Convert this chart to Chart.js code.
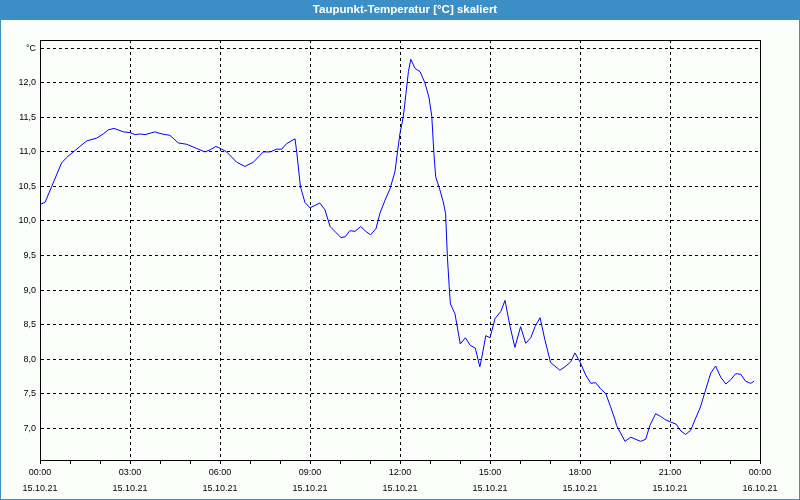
<!DOCTYPE html>
<html>
<head>
<meta charset="utf-8">
<script src="https://cdn.jsdelivr.net/npm/chart.js@4.4.1/dist/chart.umd.min.js"></script>
<style>
  body { margin: 0; background: #fff; }
  canvas { display: block; }
</style>
</head>
<body>
<canvas id="taupunkt" width="800" height="500"></canvas>
<script>
// hours since 15.10.21 00:00
const hours = [0.00, 0.17, 0.39, 0.72, 0.89, 1.11, 1.56, 1.89, 2.11, 2.28, 2.47, 2.78,
  3.00, 3.17, 3.33, 3.50, 3.83, 4.06, 4.33, 4.61, 4.89, 5.22, 5.50, 5.67, 5.86,
  6.06, 6.22, 6.56, 6.83, 7.11, 7.44, 7.67, 7.89, 8.06, 8.22, 8.50, 8.56, 8.68,
  8.83, 9.00, 9.33, 9.50, 9.67, 10.03, 10.17, 10.33, 10.50, 10.69, 10.86, 11.02,
  11.20, 11.33, 11.50, 11.67, 11.83, 11.91, 12.00, 12.11, 12.20, 12.28, 12.36,
  12.50, 12.67, 12.83, 12.97, 13.06, 13.13, 13.19, 13.33, 13.44, 13.52, 13.58,
  13.64, 13.68, 13.83, 14.01, 14.18, 14.34, 14.51, 14.66, 14.72, 14.86, 15.00,
  15.17, 15.36, 15.50, 15.67, 15.83, 16.02, 16.19, 16.36, 16.50, 16.67, 16.83,
  17.02, 17.33, 17.50, 17.69, 17.83, 18.00, 18.19, 18.36, 18.52, 18.69, 18.86,
  19.02, 19.17, 19.22, 19.50, 19.69, 20.02, 20.19, 20.33, 20.52, 20.69, 20.86,
  21.02, 21.20, 21.36, 21.52, 21.69, 21.83, 22.00, 22.17, 22.36, 22.52, 22.69,
  22.86, 23.02, 23.19, 23.36, 23.52, 23.69, 23.80]
const taupunkt = [10.24, 10.27, 10.50, 10.84, 10.92, 11.00, 11.16, 11.20, 11.26, 11.32, 11.34, 11.29,
  11.28, 11.25, 11.26, 11.25, 11.29, 11.26, 11.24, 11.13, 11.11, 11.05, 11.00, 11.03, 11.08,
  11.04, 11.00, 10.85, 10.79, 10.85, 11.00, 11.00, 11.04, 11.04, 11.12, 11.19, 10.99, 10.50,
  10.27, 10.19, 10.26, 10.16, 9.92, 9.76, 9.77, 9.86, 9.85, 9.92, 9.85, 9.80,
  9.89, 10.11, 10.30, 10.47, 10.71, 10.98, 11.27, 11.51, 11.85, 12.16, 12.34,
  12.21, 12.16, 12.00, 11.78, 11.51, 10.98, 10.64, 10.45, 10.28, 10.11, 9.48,
  9.05, 8.80, 8.66, 8.22, 8.31, 8.20, 8.16, 7.89, 8.01, 8.34, 8.31,
  8.59, 8.69, 8.85, 8.47, 8.17, 8.47, 8.23, 8.31, 8.47, 8.60, 8.28,
  7.95, 7.84, 7.89, 7.96, 8.09, 7.96, 7.77, 7.65, 7.66, 7.57, 7.50,
  7.31, 7.12, 7.04, 6.81, 6.87, 6.81, 6.84, 7.04, 7.21, 7.17, 7.12,
  7.09, 7.06, 6.96, 6.91, 6.97, 7.12, 7.29, 7.53, 7.80, 7.90, 7.74,
  7.64, 7.70, 7.79, 7.78, 7.68, 7.65, 7.68]
const timeLabels = ['00:00', '03:00', '06:00', '09:00', '12:00', '15:00', '18:00', '21:00', '00:00']
const dateLabels = ['15.10.21', '15.10.21', '15.10.21', '15.10.21', '15.10.21', '15.10.21', '15.10.21', '15.10.21', '16.10.21']

const blue = '#3c8fc6'
const frame = {
  id: 'frame',
  beforeDraw(chart) {
    const c = chart.ctx
    c.save()
    c.fillStyle = '#fcfefc'
    c.fillRect(0, 0, chart.width, chart.height)
    c.fillStyle = blue
    c.fillRect(0, 0, chart.width, 20)
    c.strokeStyle = blue
    c.lineWidth = 1
    c.strokeRect(0.5, 0.5, chart.width - 1, chart.height - 1)
    c.restore()
  },
  afterDraw(chart) {
    const a = chart.chartArea, c = chart.ctx
    c.save()
    c.strokeStyle = '#000'
    c.lineWidth = 1
    c.beginPath()
    c.moveTo(a.left, a.top + 0.5)
    c.lineTo(a.right, a.top + 0.5)
    c.stroke()
    c.restore()
  }
}

const font = { family: 'Liberation Sans', size: 9 }

new Chart(document.getElementById('taupunkt').getContext('2d'), {
  type: 'line',
  data: {
    datasets: [{
      label: 'Taupunkt',
      data: hours.map((h, i) => ({ x: h, y: taupunkt[i] })),
      borderColor: '#0000ff',
      borderWidth: 1,
      pointRadius: 0,
      tension: 0,
      fill: false
    }]
  },
  options: {
    responsive: false,
    animation: false,
    devicePixelRatio: 1,
    layout: { padding: { left: 10, right: 0, top: 0, bottom: 0 } },
    plugins: {
      legend: { display: false },
      tooltip: { enabled: false },
      title: {
        display: true,
        text: 'Taupunkt-Temperatur [°C] skaliert',
        color: '#ffffff',
        font: { family: 'Liberation Sans', size: 11.5, weight: 'bold', lineHeight: '14px' },
        padding: { top: 3, bottom: 23 }
      }
    },
    scales: {
      x: {
        type: 'linear',
        min: 0,
        max: 24,
        afterFit: s => { s.height = 40 },
        afterBuildTicks: s => { s.ticks = Array.from({ length: 25 }, (_, i) => ({ value: i })) },
        grid: {
          color: ctx => (ctx.tick && ctx.tick.value % 3 === 0 && ctx.tick.value > 0 && ctx.tick.value < 24) ? '#000' : 'rgba(0,0,0,0)',
          tickColor: '#000',
          tickLength: 4,
          tickBorderDash: []
        },
        border: { display: true, color: '#000', width: 1, dash: [3, 3] },
        ticks: {
          autoSkip: false,
          maxRotation: 0,
          padding: 1,
          color: '#000',
          font: { family: 'Liberation Sans', size: 9, lineHeight: '16px' },
          callback: v => v % 3 === 0 ? [timeLabels[v / 3], dateLabels[v / 3]] : ''
        }
      },
      y: {
        min: 6.54,
        max: 12.62,
        afterFit: s => { s.width = 30 },
        grid: { color: '#000', drawTicks: false },
        border: { display: true, color: '#000', width: 1, dash: [3, 3] },
        ticks: {
          stepSize: 0.5,
          includeBounds: false,
          padding: 4,
          color: '#000',
          font: font,
          callback: v => Math.abs(v - 12.5) < 0.01 ? '°C' : v.toFixed(1).replace('.', ',')
        }
      },
      y2: {
        position: 'right',
        min: 6.54,
        max: 12.62,
        afterFit: s => { s.width = 40 },
        grid: { display: false, drawTicks: false },
        border: { display: true, color: '#000', width: 1 },
        ticks: { display: false }
      }
    }
  },
  plugins: [frame]
})
</script>
</body>
</html>
